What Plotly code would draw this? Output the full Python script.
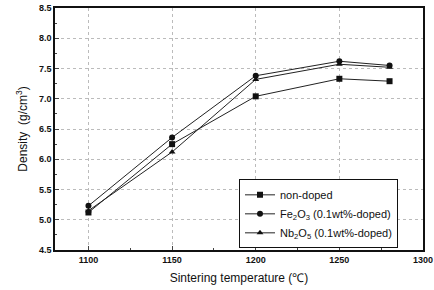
import plotly.graph_objects as go

temps = [1100, 1150, 1200, 1250, 1280]
non_doped = [5.12, 6.25, 7.04, 7.33, 7.29]
fe2o3 = [5.23, 6.36, 7.38, 7.62, 7.55]
nb2o5 = [5.15, 6.12, 7.32, 7.57, 7.52]

names = ["non-doped", "Fe<sub>2</sub>O<sub>3</sub> (0.1wt%-doped)", "Nb<sub>2</sub>O<sub>5</sub> (0.1wt%-doped)"]
series = [non_doped, fe2o3, nb2o5]
symbols = ["square", "circle", "triangle-up"]

fig = go.Figure()
for n, s, sym in zip(names, series, symbols):
    fig.add_trace(go.Scatter(x=temps, y=s, name=n, mode="lines+markers",
                             line=dict(color="#222", width=1),
                             marker=dict(symbol=sym, size=6, color="#111")))

font = "Liberation Sans, Arial, sans-serif"
fig.update_layout(
    width=434, height=290,
    margin=dict(l=55, r=11, t=8, b=40, autoexpand=False),
    paper_bgcolor="white", plot_bgcolor="white",
    font=dict(family=font, color="#111", size=9),
    legend=dict(x=0.5, y=0.292, xanchor="left", yanchor="top",
                bordercolor="#111", borderwidth=1, bgcolor="white",
                font=dict(size=11), tracegroupgap=0, itemwidth=30),
    xaxis=dict(range=[1080, 1300], tickvals=[1100, 1150, 1200, 1250, 1300],
               automargin=False,
               ticks="inside", ticklen=4, showline=True, linecolor="#111", linewidth=1.5,
               mirror=True, showgrid=True, gridcolor="#bbb", griddash="dot", gridwidth=1,
               minor=dict(dtick=25, ticks="inside", ticklen=2, showgrid=False),
               zeroline=False, tickfont=dict(size=9, weight="bold"),
               title=dict(text="Sintering temperature (℃)", font=dict(size=12), standoff=10)),
    yaxis=dict(range=[4.5, 8.5], dtick=0.5, tickformat=".1f",
               automargin=False,
               ticks="inside", ticklen=4, showline=True, linecolor="#111", linewidth=1.5,
               mirror=True, showgrid=True, gridcolor="#bbb", griddash="dot", gridwidth=1,
               minor=dict(dtick=0.25, ticks="inside", ticklen=2, showgrid=False),
               zeroline=False, tickfont=dict(size=9, weight="bold"),
               title=dict(text="Density  (g/cm<sup>3</sup>)", font=dict(size=12), standoff=9)),
)
fig.write_html("out.html", post_script="document.body.style.margin='0';",
               config={"displayModeBar": False})
